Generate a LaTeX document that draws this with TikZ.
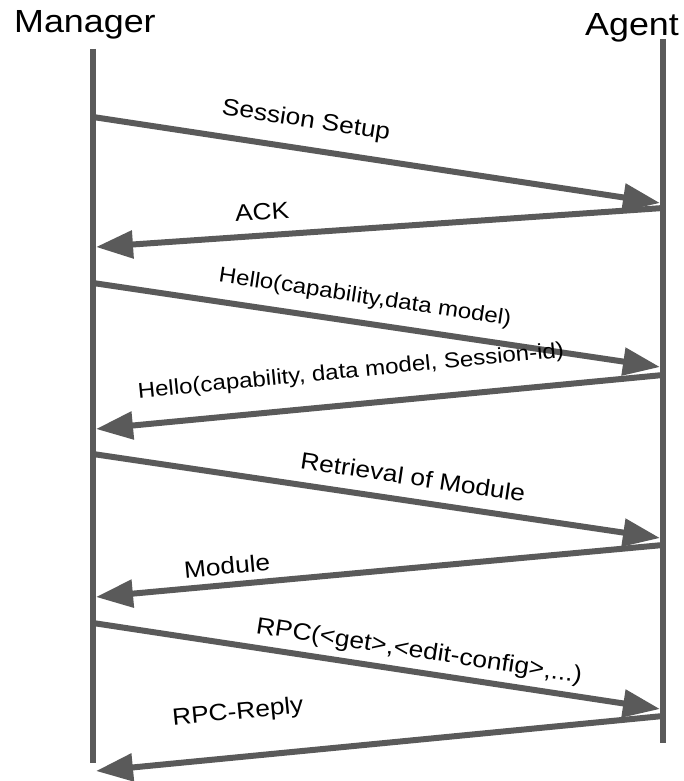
\documentclass[tikz,border=0pt]{standalone}
\usepackage{fontspec}
\usepackage{graphicx}
\setmainfont{Liberation Sans}
\usetikzlibrary{arrows.meta}
\definecolor{lifegray}{RGB}{90,90,90}
\tikzset{
  lifeline/.style={draw=lifegray, line width=6pt},
  msg/.style={draw=lifegray, line width=6pt, -{Triangle[length=37pt,width=27pt]}},
  actor/.style={inner sep=0pt, font=\fontsize{32}{32}\selectfont},
  msglabel/.style={inner sep=0pt, font=\fontsize{23.5}{24}\selectfont},
  hellolabel/.style={inner sep=0pt, font=\fontsize{21.5}{22}\selectfont},
}
\newcommand\widetext[1]{\scalebox{1.12}[1]{#1}}

\begin{document}
\begin{tikzpicture}[x=1pt,y=-1pt]
\useasboundingbox (0,0) rectangle (683,781);

% participants
\node[actor, anchor=base west] (manager) at (14,33) {\widetext{Manager}};
\node[actor, anchor=base west] (agent) at (585,36) {\widetext{Agent}};

% lifelines
\coordinate (mtop) at (93,49);
\coordinate (mbot) at (93,763);
\coordinate (atop) at (663,39);
\coordinate (abot) at (663,743);
\draw[lifeline] (mtop) -- (mbot);
\draw[lifeline] (atop) -- (abot);

% message end points on the lifelines
\coordinate (m1) at (93,117);  \coordinate (a1) at (660,203);
\coordinate (a2) at (663,208); \coordinate (m2) at (96,247);
\coordinate (m3) at (93,283);  \coordinate (a3) at (660,367);
\coordinate (a4) at (663,375); \coordinate (m4) at (96,429);
\coordinate (m5) at (93,454);  \coordinate (a5) at (660,538);
\coordinate (a6) at (663,545); \coordinate (m6) at (96,597);
\coordinate (m7) at (93,623);  \coordinate (a7) at (660,709);
\coordinate (a8) at (663,716); \coordinate (m8) at (96,771);

% messages
\draw[msg] (m1) -- (a1);
\draw[msg] (a2) -- (m2);
\draw[msg] (m3) -- (a3);
\draw[msg] (a4) -- (m4);
\draw[msg] (m5) -- (a5);
\draw[msg] (a6) -- (m6);
\draw[msg] (m7) -- (a7);
\draw[msg] (a8) -- (m8);

% message labels
\node[msglabel, rotate=-8.6] (l1) at (306,121) {\widetext{Session Setup}};
\node[msglabel, rotate=4.0] (l2) at (262,212) {\widetext{ACK}};
\node[hellolabel, rotate=-8.5] (l3) at (365,298) {\widetext{Hello(capability,data model)}};
\node[hellolabel, rotate=5.5] (l4) at (351,372) {\widetext{Hello(capability, data model, Session-id)}};
\node[msglabel, rotate=-8.5] (l5) at (413,477) {\widetext{Retrieval of Module}};
\node[msglabel, rotate=5.3] (l6) at (227,566) {\widetext{Module}};
\node[msglabel, rotate=-8.7] (l7) at (419,652) {\widetext{RPC(<get>,<edit-config>,...)}};
\node[msglabel, rotate=5.6] (l8) at (238,713) {\widetext{RPC-Reply}};
\end{tikzpicture}
\end{document}
